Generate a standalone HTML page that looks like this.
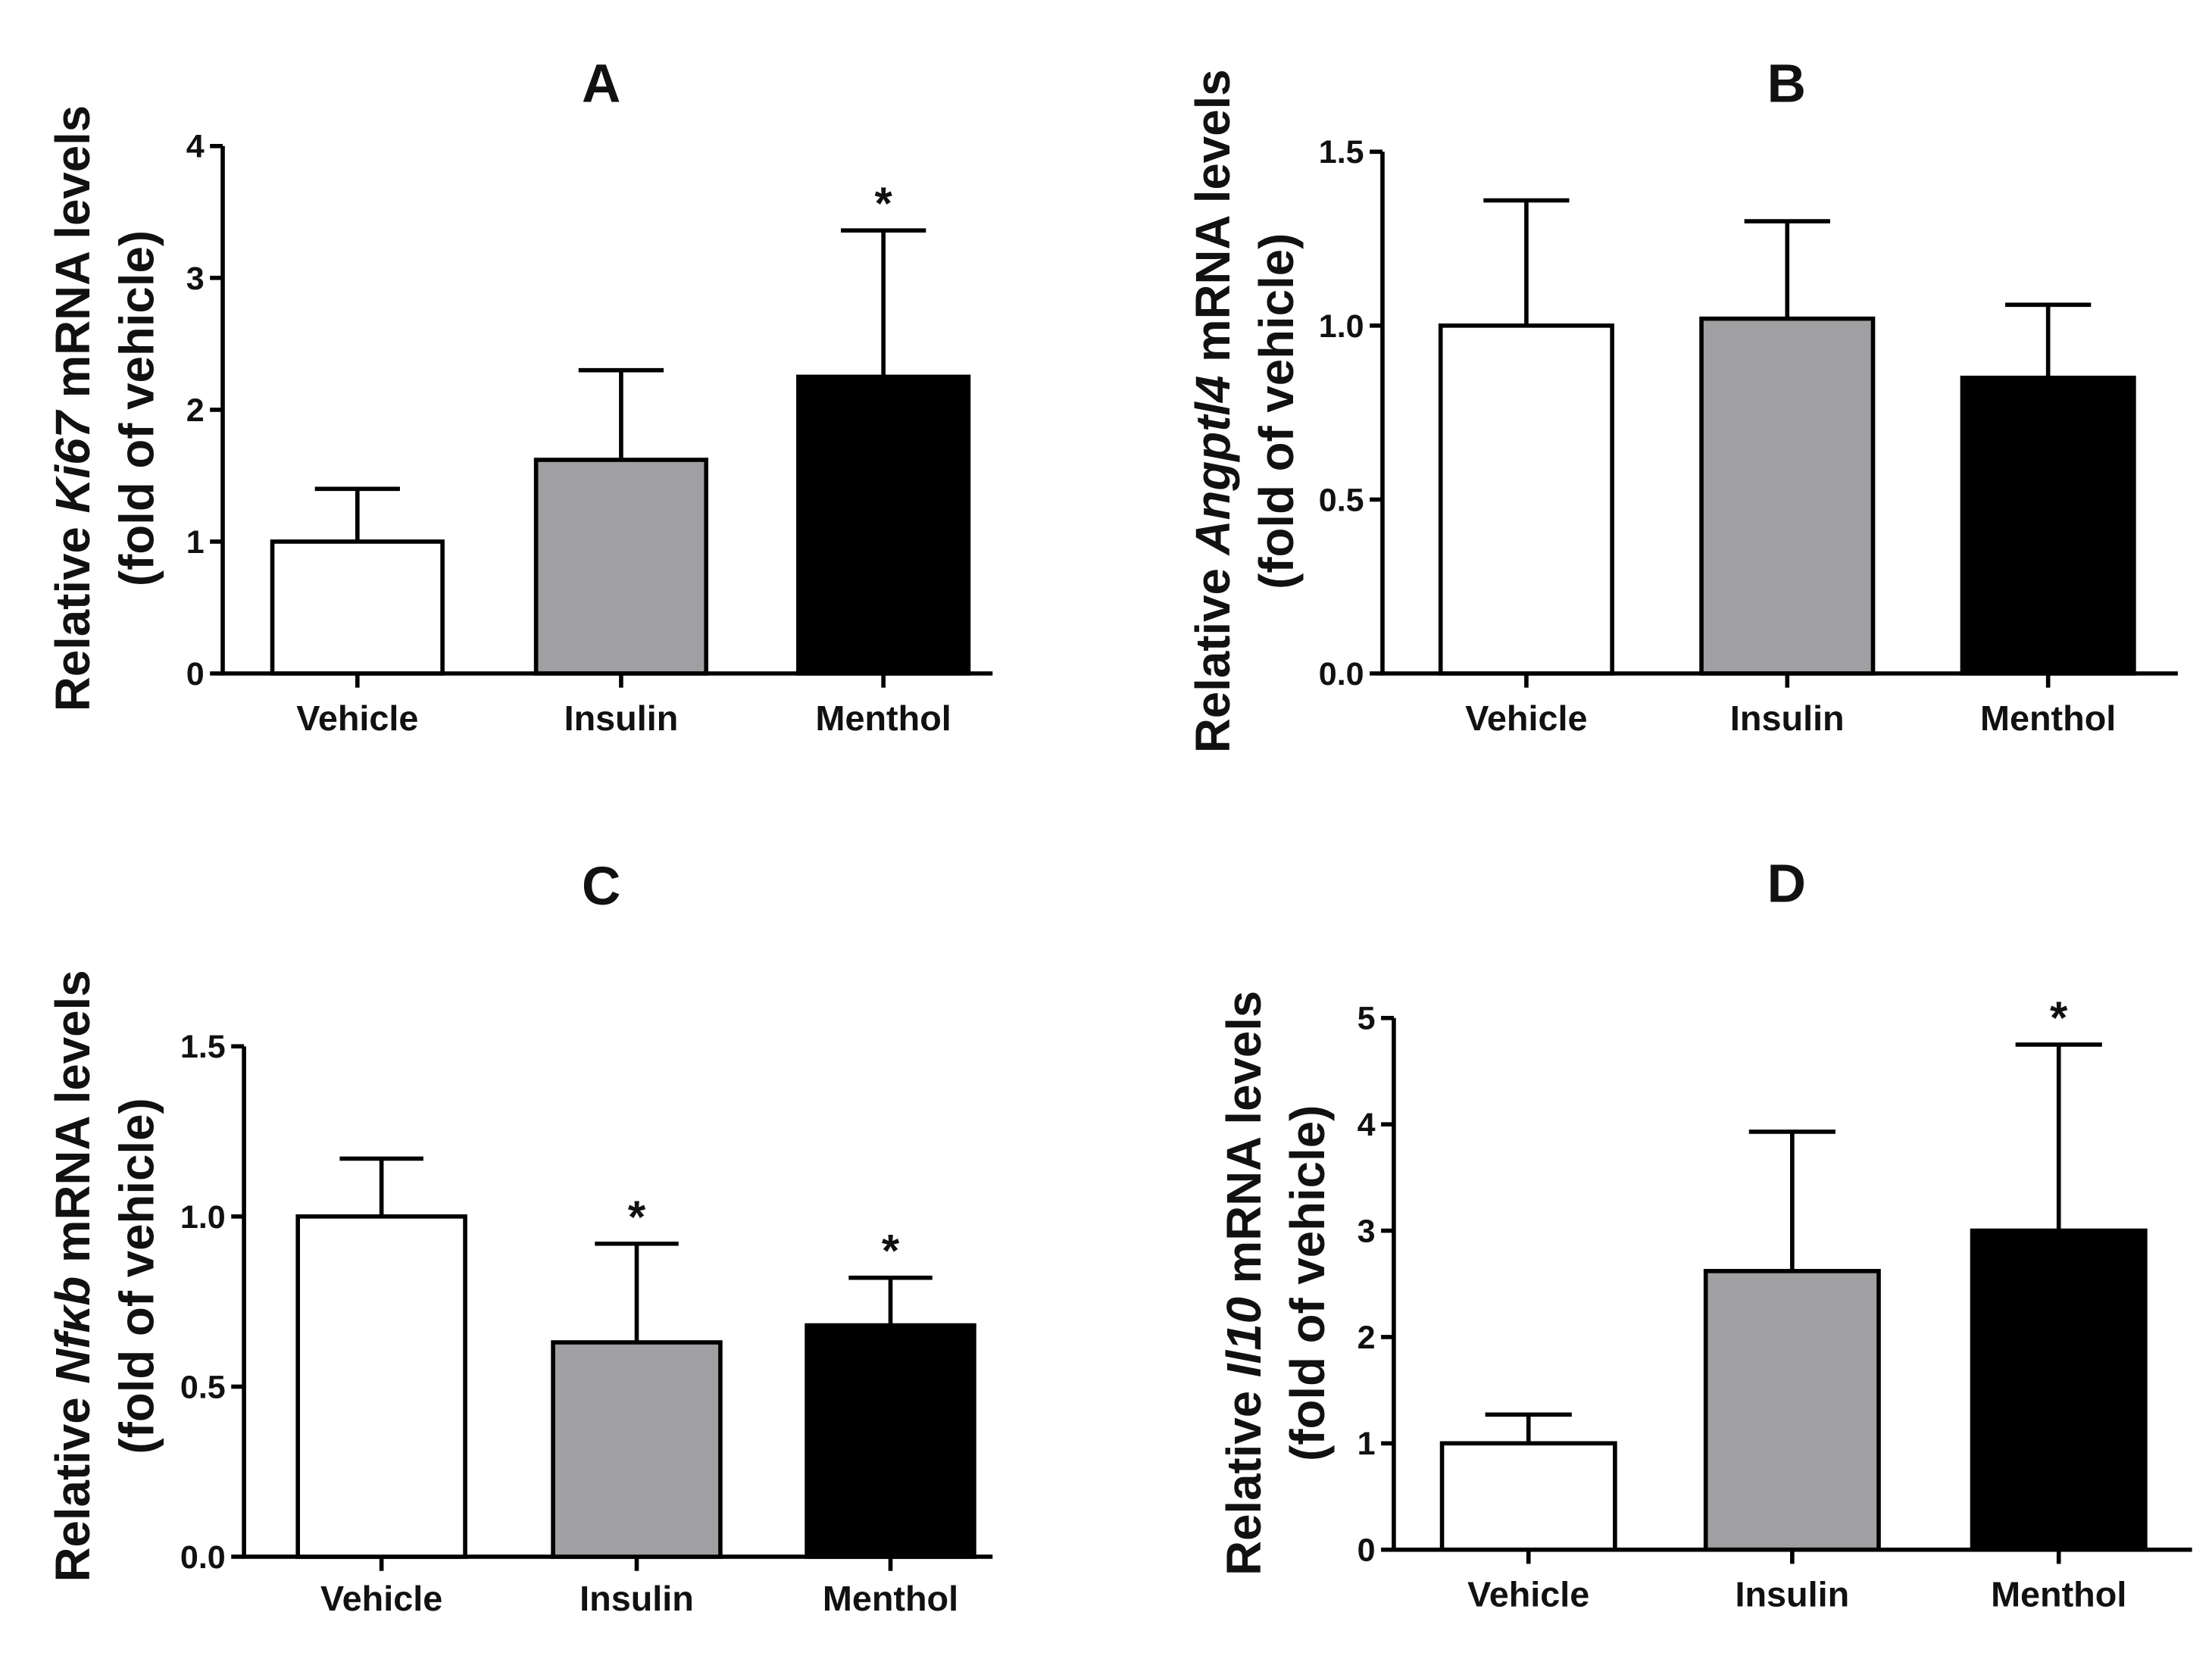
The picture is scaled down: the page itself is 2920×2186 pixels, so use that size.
<!DOCTYPE html>
<html><head><meta charset="utf-8"><style>
html,body{margin:0;padding:0;background:#fff;}
svg{display:block;}
text{font-family:"Liberation Sans",Arial,sans-serif;font-weight:bold;fill:#111;}
.narrow{font-family:"Liberation Sans Narrow","Liberation Sans",Arial,sans-serif;}
</style></head><body>
<svg id="fig" width="2920" height="2186" viewBox="0 0 1560 1168" xmlns="http://www.w3.org/2000/svg"></svg>
<script>
const categories = ["Vehicle","Insulin","Menthol"];
const fills = ["#ffffff","#a0a0a2","#000000"];
const aMeans = [1.0, 1.62, 2.25];
const aErr = [1.4, 2.3, 3.36];
const aStars = [false, false, true];
const aTicks = ["0","1","2","3","4"];
const bMeans = [1.0, 1.02, 0.85];
const bErr = [1.36, 1.3, 1.06];
const bStars = [false, false, false];
const bTicks = ["0.0","0.5","1.0","1.5"];
const cMeans = [1.0, 0.63, 0.68];
const cErr = [1.17, 0.92, 0.82];
const cStars = [false, true, true];
const cTicks = ["0.0","0.5","1.0","1.5"];
const dMeans = [1.0, 2.62, 3.0];
const dErr = [1.27, 3.93, 4.75];
const dStars = [false, false, true];
const dTicks = ["0","1","2","3","4","5"];

const NS="http://www.w3.org/2000/svg";
const svg=document.getElementById('fig');
function mk(tag,attrs,parent,txt){const e=document.createElementNS(NS,tag);for(const k in attrs)e.setAttribute(k,attrs[k]);if(txt!==undefined)e.textContent=txt;(parent||svg).appendChild(e);return e;}

function panel(cfg){
  const g=mk('g',{});
  
  
  const ymax=parseFloat(cfg.ticks[cfg.ticks.length-1]);
  const y=v=>cfg.y0-(v/ymax)*(cfg.y0-cfg.yTop);
  const t=mk('text',{x:cfg.titleX,y:cfg.titleY,'font-size':38,'text-anchor':'middle','class':'narrow'},g,cfg.id);
  
  
  const ax=mk('line',{x1:cfg.ax,y1:cfg.yTop,x2:cfg.ax,y2:cfg.y0,stroke:'#000','stroke-width':3},g);
  
  
  const xa=mk('line',{x1:cfg.ax-1.5,y1:cfg.y0,x2:cfg.axEnd,y2:cfg.y0,stroke:'#000','stroke-width':3},g);
  
  
  cfg.ticks.forEach(tk=>{
    const v=parseFloat(tk), yy=y(v);
    mk('line',{x1:cfg.ax-9,y1:yy,x2:cfg.ax,y2:yy,stroke:'#000','stroke-width':3},g);
    const tl=mk('text',{x:cfg.ax-13,y:yy+8,'font-size':23,'text-anchor':'end','class':'narrow'},g,tk);
    
    
  });
  categories.forEach((c,i)=>{
    const x0=cfg.bars[i], w=cfg.bw, cx=x0+w/2;
    const top=y(cfg.means[i]), et=y(cfg.err[i]);
    const eb=mk('line',{x1:cx,y1:top,x2:cx,y2:et,stroke:'#000','stroke-width':3},g);
    
    
    mk('line',{x1:cx-w/4,y1:et,x2:cx+w/4,y2:et,stroke:'#000','stroke-width':3},g);
    const r=mk('rect',{x:x0,y:top,width:w,height:cfg.y0-top,fill:fills[i],stroke:'#000','stroke-width':3},g);
    
    
    mk('line',{x1:cx,y1:cfg.y0,x2:cx,y2:cfg.y0+10,stroke:'#000','stroke-width':3},g);
    const cl=mk('text',{x:cx,y:cfg.catY,'font-size':25,'text-anchor':'middle','class':'narrow'},g,c);
    
    
    if(cfg.stars[i]){
      const s=mk('text',{x:cx,y:et-8,'font-size':32,'text-anchor':'middle'},g,'*');
      
      
    }
  });
  const yl=mk('text',{transform:`translate(${cfg.ylX},${cfg.ylY}) rotate(-90)`,'font-size':34,'text-anchor':'middle'},g);
  
  
  mk('tspan',{x:0,y:0},yl,'Relative ');
  mk('tspan',{'font-style':'italic'},yl,cfg.gene);
  mk('tspan',{},yl,' mRNA levels');
  mk('tspan',{x:0,y:45},yl,'(fold of vehicle)');
}

panel({id:'A',gene:'Ki67',titleX:424,titleY:72,ax:157,axEnd:700,yTop:103,y0:475,ticks:aTicks,means:aMeans,err:aErr,stars:aStars,bars:[192,378,563],bw:120,catY:515,ylX:63,ylY:288});
panel({id:'B',gene:'Angptl4',titleX:1260,titleY:72,ax:975,axEnd:1536,yTop:107,y0:475,ticks:bTicks,means:bMeans,err:bErr,stars:bStars,bars:[1016,1200,1384],bw:121,catY:515,ylX:867,ylY:290});
panel({id:'C',gene:'Nfκb',titleX:424,titleY:638,ax:172,axEnd:700,yTop:738,y0:1098,ticks:cTicks,means:cMeans,err:cErr,stars:cStars,bars:[210,390,569],bw:118,catY:1136,ylX:63,ylY:900});
panel({id:'D',gene:'Il10',titleX:1260,titleY:636,ax:983,axEnd:1546,yTop:718,y0:1093,ticks:dTicks,means:dMeans,err:dErr,stars:dStars,bars:[1017,1203,1391],bw:122,catY:1133,ylX:889,ylY:905});
</script>
</body></html>
